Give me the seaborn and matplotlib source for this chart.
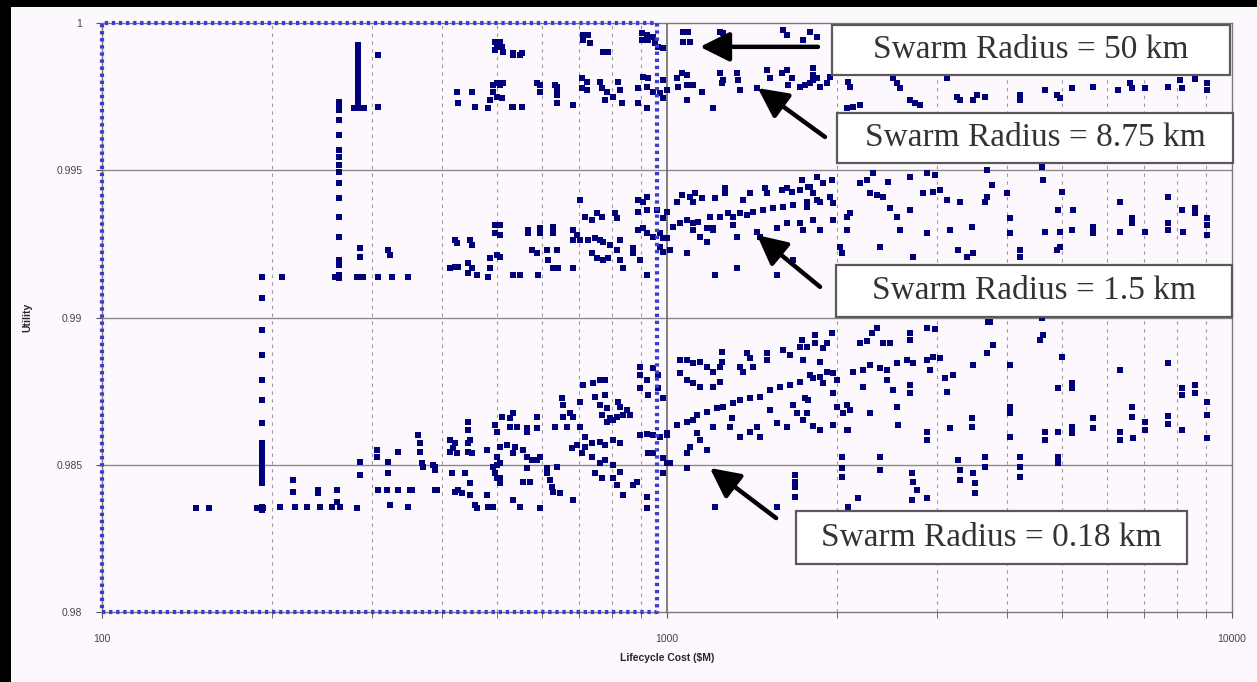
import matplotlib
matplotlib.use("Agg")
import matplotlib.pyplot as plt
import seaborn as sns
import pandas as pd
from matplotlib.patches import Rectangle
from matplotlib.ticker import FixedLocator, FixedFormatter, NullFormatter

# ---------------- data (cost in $M, utility) ----------------
r50_pts = [
    (496, 0.99935), (506, 0.99935), (500, 0.99919), (511, 0.99919), (496, 0.99908), (513, 0.99902),
    (534, 0.99898), (554, 0.99898), (534, 0.99891), (549, 0.99891),
    (710, 0.99959), (725, 0.99959), (710, 0.99942), (731, 0.99932), (770, 0.99902), (786, 0.99902),
    (903, 0.99966), (922, 0.99959), (903, 0.99942), (926, 0.99942), (945, 0.99952), (952, 0.99932),
    (964, 0.99919), (984, 0.99915),
    (1067, 0.99969), (1089, 0.99969), (1067, 0.99935), (1098, 0.99935),
    (1241, 0.99969), (1257, 0.99966),
    (1604, 0.99976), (1631, 0.99959), (1741, 0.99942), (1791, 0.99969), (1843, 0.99952),
    (284, 0.99925), (284, 0.99915), (284, 0.99908), (284, 0.99898), (284, 0.99888), (284, 0.99874),
    (284, 0.99861), (284, 0.99847), (308, 0.99891),
]

r875_pts = [
    (284, 0.99834), (284, 0.99817), (284, 0.99800), (284, 0.99783), (284, 0.99766), (284, 0.99749),
    (284, 0.99732), (279, 0.99711), (284, 0.99711), (291, 0.99711), (308, 0.99715),
    (425, 0.99766), (452, 0.99766), (427, 0.99728), (457, 0.99715), (482, 0.99711),
    (492, 0.99789), (506, 0.99789), (492, 0.99766), (500, 0.99749), (511, 0.99745), (486, 0.99739),
    (534, 0.99715), (554, 0.99715), (500, 0.99796), (513, 0.99796), (532, 0.99715),
    (596, 0.99789), (596, 0.99766), (589, 0.99796), (634, 0.99789), (639, 0.99783), (639, 0.99766),
    (639, 0.99756), (639, 0.99728), (682, 0.99722),
    (707, 0.99813), (722, 0.99800), (707, 0.99779), (722, 0.99772), (761, 0.99800), (767, 0.99779),
    (783, 0.99766), (777, 0.99739), (819, 0.99800), (826, 0.99772), (832, 0.99728), (802, 0.99749),
    (889, 0.99779), (907, 0.99817), (926, 0.99813), (922, 0.99783), (945, 0.99766), (972, 0.99762),
    (984, 0.99745), (1000, 0.99772), (984, 0.99806), (889, 0.99728), (922, 0.99711),
    (1041, 0.99813), (1063, 0.99830), (1085, 0.99823), (1046, 0.99783), (1085, 0.99789),
    (1112, 0.99789), (1153, 0.99766), (1085, 0.99739), (1206, 0.99711),
    (1241, 0.99830), (1257, 0.99806), (1251, 0.99796), (1330, 0.99830), (1336, 0.99806),
    (1346, 0.99772), (1443, 0.99779),
    (1503, 0.99840), (1522, 0.99813), (1597, 0.99830), (1631, 0.99840), (1665, 0.99813),
    (1638, 0.99789), (1720, 0.99783), (1755, 0.99789), (1813, 0.99847), (1813, 0.99823),
    (1791, 0.99796), (1813, 0.99806), (1843, 0.99813), (1866, 0.99783), (1920, 0.99796), (1944, 0.99817),
    (2092, 0.99800), (2109, 0.99783), (2083, 0.99711), (2135, 0.99715), (2197, 0.99722),
    (2512, 0.99813), (2553, 0.99796), (2585, 0.99779), (2692, 0.99739), (2748, 0.99728), (2804, 0.99722),
    (3131, 0.99813), (3262, 0.99749), (3302, 0.99739), (3481, 0.99739), (3538, 0.99756), (3655, 0.99749),
    (4215, 0.99756), (4215, 0.99739),
    (4667, 0.99772), (4901, 0.99756), (4961, 0.99745), (5211, 0.99779), (5675, 0.99783),
    (6284, 0.99772), (6599, 0.99796), (6653, 0.99779), (7015, 0.99779), (7705, 0.99783),
    (8091, 0.99806), (8155, 0.99779), (8600, 0.99810), (9030, 0.99796), (9030, 0.99772),
]

r15_pts = [
    (263, 0.99732), (263, 0.99722), (263, 0.99711), (263, 0.99705), (263, 0.99671), (263, 0.99620),
    (263, 0.99569), (263, 0.99545), (263, 0.99518), (263, 0.99494), (263, 0.99457), (263, 0.99406),
    (263, 0.99341), (263, 0.99273), (263, 0.99195), (263, 0.99178), (263, 0.99144), (263, 0.99134),
    (258, 0.99138), (192, 0.99138), (208, 0.99138),
    (286, 0.99236), (286, 0.99205), (283, 0.99138), (290, 0.99138), (308, 0.99138),
    (321, 0.99229), (323, 0.99212), (326, 0.99138), (348, 0.99138),
    (422, 0.99263), (448, 0.99263), (425, 0.99253), (452, 0.99246),
    (413, 0.99168), (422, 0.99171), (427, 0.99171), (445, 0.99185), (452, 0.99168), (461, 0.99144),
    (445, 0.99151),
    (486, 0.99202), (500, 0.99212), (506, 0.99205), (496, 0.99314), (506, 0.99314), (496, 0.99287),
    (506, 0.99280), (486, 0.99168), (482, 0.99138), (534, 0.99144), (549, 0.99144),
    (568, 0.99297), (568, 0.99287), (596, 0.99304), (596, 0.99287), (629, 0.99307), (629, 0.99287),
    (577, 0.99229), (589, 0.99219), (613, 0.99229), (616, 0.99195), (639, 0.99229), (629, 0.99168),
    (642, 0.99168), (591, 0.99144),
    (682, 0.99297), (682, 0.99263), (702, 0.99399), (716, 0.99341), (737, 0.99331), (752, 0.99355),
    (767, 0.99341), (809, 0.99355), (816, 0.99338), (693, 0.99280), (702, 0.99263), (725, 0.99263),
    (746, 0.99270), (761, 0.99263), (770, 0.99256), (793, 0.99246), (826, 0.99263), (816, 0.99229),
    (737, 0.99219), (752, 0.99202), (770, 0.99195), (786, 0.99202), (826, 0.99195), (682, 0.99168),
    (836, 0.99168), (922, 0.99144),
    (889, 0.99399), (907, 0.99392), (922, 0.99409), (889, 0.99358), (922, 0.99365), (960, 0.99365),
    (1000, 0.99358), (984, 0.99338),
    (889, 0.99297), (907, 0.99304), (922, 0.99287), (945, 0.99273), (972, 0.99287), (984, 0.99270),
    (1000, 0.99270), (972, 0.99239), (984, 0.99222), (1012, 0.99229), (871, 0.99236), (871, 0.99219),
    (896, 0.99195),
    (1041, 0.99392), (1063, 0.99416), (1098, 0.99409), (1121, 0.99423), (1112, 0.99392),
    (1153, 0.99406), (1216, 0.99406), (1267, 0.99440), (1267, 0.99423),
    (1025, 0.99307), (1054, 0.99321), (1085, 0.99331), (1112, 0.99321), (1135, 0.99324),
    (1112, 0.99297), (1144, 0.99273), (1177, 0.99304), (1206, 0.99304), (1177, 0.99256), (1085, 0.99219),
    (1191, 0.99341), (1241, 0.99341), (1282, 0.99355), (1309, 0.99341), (1346, 0.99355),
    (1385, 0.99348), (1420, 0.99358), (1479, 0.99365), (1540, 0.99372), (1604, 0.99375),
    (1671, 0.99382), (1769, 0.99392), (1843, 0.99399),
    (1363, 0.99399), (1403, 0.99423), (1491, 0.99440), (1503, 0.99423), (1597, 0.99433),
    (1631, 0.99440), (1665, 0.99426), (1720, 0.99433), (1776, 0.99443),
    (1206, 0.99297), (1309, 0.99314), (1330, 0.99273), (1443, 0.99290), (1461, 0.99273),
    (1566, 0.99304), (1631, 0.99321), (1720, 0.99321), (1741, 0.99297),
    (1216, 0.99144), (1330, 0.99168), (1566, 0.99144), (1671, 0.99195),
    (1734, 0.99467), (1791, 0.99443), (1813, 0.99423), (1843, 0.99477), (1889, 0.99457),
    (1959, 0.99467), (1944, 0.99409), (1866, 0.99392), (1967, 0.99389), (1967, 0.99331),
    (1769, 0.99375), (1813, 0.99331), (1866, 0.99297), (2083, 0.99341), (2109, 0.99355),
    (2083, 0.99297), (2024, 0.99239), (2040, 0.99219),
    (2197, 0.99457), (2259, 0.99467), (2287, 0.99423), (2353, 0.99416), (2411, 0.99409),
    (2315, 0.99491), (2461, 0.99460), (2481, 0.99372), (2553, 0.99341), (2585, 0.99297),
    (2692, 0.99477), (2692, 0.99365), (2382, 0.99239), (2725, 0.99205),
    (2885, 0.99491), (2981, 0.99484), (2839, 0.99423), (2957, 0.99426), (3042, 0.99433),
    (3131, 0.99399), (3302, 0.99392), (2885, 0.99287), (3169, 0.99297), (3466, 0.99307),
    (3273, 0.99229), (3396, 0.99205), (3481, 0.99219),
    (3686, 0.99501), (3761, 0.99450), (3686, 0.99409), (3655, 0.99392), (3998, 0.99423),
    (4047, 0.99338), (4047, 0.99287), (4215, 0.99229), (4215, 0.99205),
    (4610, 0.99511), (4629, 0.99467), (5001, 0.99426), (4920, 0.99365), (5233, 0.99365),
    (4667, 0.99290), (4961, 0.99290), (5211, 0.99297), (4901, 0.99229), (4961, 0.99239),
    (5675, 0.99307), (5675, 0.99287),
    (6336, 0.99392), (6653, 0.99338), (6653, 0.99321), (6336, 0.99290), (7015, 0.99290),
    (7705, 0.99409), (7705, 0.99321), (7705, 0.99297), (8155, 0.99365), (8600, 0.99372),
    (8600, 0.99355), (8189, 0.99290), (9030, 0.99338), (9030, 0.99314), (9030, 0.99280),
]

r018_pts = [
    (192, 0.99066), (192, 0.98958), (192, 0.98873), (192, 0.98788), (192, 0.98720), (192, 0.98642),
    (192, 0.98574), (192, 0.98560), (192, 0.98550), (192, 0.98540), (192, 0.98526), (192, 0.98506),
    (192, 0.98492), (192, 0.98475), (192, 0.98455), (192, 0.98438), (192, 0.98357), (192, 0.98346),
    (147, 0.98353), (155, 0.98353), (188, 0.98353), (193, 0.98353),
    (207, 0.98357), (218, 0.98448), (218, 0.98407), (220, 0.98357), (231, 0.98357), (241, 0.98414),
    (241, 0.98404), (243, 0.98357), (261, 0.98414), (261, 0.98373), (255, 0.98357), (264, 0.98357),
    (283, 0.98353), (286, 0.98509), (286, 0.98465), (307, 0.98550), (307, 0.98526), (321, 0.98509),
    (321, 0.98472), (308, 0.98414), (320, 0.98414), (323, 0.98363), (334, 0.98543), (334, 0.98414),
    (348, 0.98357), (351, 0.98414),
    (362, 0.98601), (365, 0.98574), (365, 0.98543), (368, 0.98506), (385, 0.98499), (389, 0.98482),
    (392, 0.98414), (354, 0.98414), (389, 0.98414), (370, 0.98492), (389, 0.98492),
    (413, 0.98584), (422, 0.98574), (413, 0.98543), (445, 0.98645), (445, 0.98618), (445, 0.98574),
    (445, 0.98543), (416, 0.98472), (439, 0.98472), (427, 0.98414), (434, 0.98404), (448, 0.98397),
    (457, 0.98363), (480, 0.98550), (480, 0.98397), (492, 0.98357), (496, 0.98635), (500, 0.98499),
    (500, 0.98455), (418, 0.98557), (425, 0.98540), (448, 0.98584), (452, 0.98540), (422, 0.98407),
    (448, 0.98438), (461, 0.98353), (482, 0.98357),
    (500, 0.98526), (492, 0.98492), (506, 0.98506), (496, 0.98472), (506, 0.98455), (506, 0.98438),
    (500, 0.98611), (511, 0.98662), (527, 0.98659), (534, 0.98676), (527, 0.98628), (543, 0.98628),
    (506, 0.98560), (521, 0.98567), (538, 0.98560), (534, 0.98540), (556, 0.98550), (565, 0.98526),
    (577, 0.98516), (589, 0.98516), (596, 0.98526), (565, 0.98489), (556, 0.98441), (572, 0.98441),
    (534, 0.98380), (549, 0.98357), (596, 0.98353), (589, 0.98662), (589, 0.98625), (565, 0.98625),
    (565, 0.98611),
    (613, 0.98489), (613, 0.98472), (621, 0.98448), (626, 0.98424), (629, 0.98407), (647, 0.98404),
    (639, 0.98492), (634, 0.98628), (665, 0.98628), (655, 0.98662), (702, 0.98628), (674, 0.98676),
    (682, 0.98662), (652, 0.98727), (655, 0.98703), (679, 0.98557), (693, 0.98567), (716, 0.98560),
    (707, 0.98540), (737, 0.98574), (761, 0.98577), (777, 0.98567), (802, 0.98584), (826, 0.98574),
    (716, 0.98594), (737, 0.98526), (761, 0.98506), (777, 0.98516), (802, 0.98499), (746, 0.98472),
    (767, 0.98455), (802, 0.98455), (826, 0.98475), (816, 0.98431), (836, 0.98397), (871, 0.98431),
    (885, 0.98441), (922, 0.98353), (682, 0.98380),
    (710, 0.98771), (740, 0.98778), (761, 0.98788), (777, 0.98788), (746, 0.98730), (777, 0.98737),
    (702, 0.98713), (761, 0.98703), (783, 0.98693), (819, 0.98713), (826, 0.98696), (850, 0.98686),
    (860, 0.98669), (767, 0.98669), (793, 0.98659), (816, 0.98662), (836, 0.98669), (783, 0.98645),
    (802, 0.98652),
    (896, 0.98832), (896, 0.98805), (922, 0.98788), (945, 0.98829), (964, 0.98805), (896, 0.98761),
    (926, 0.98737), (964, 0.98761), (984, 0.98727), (896, 0.98601), (922, 0.98604), (945, 0.98601),
    (972, 0.98594), (1000, 0.98601), (926, 0.98540), (945, 0.98540), (984, 0.98523), (1000, 0.98506),
    (984, 0.98472), (922, 0.98390),
    (1000, 0.98608), (1041, 0.98635), (1085, 0.98645), (1112, 0.98652), (1130, 0.98669),
    (1177, 0.98679), (1226, 0.98693), (1257, 0.98696), (1309, 0.98710), (1346, 0.98720),
    (1403, 0.98727), (1461, 0.98730), (1522, 0.98754), (1585, 0.98764), (1651, 0.98771),
    (1720, 0.98781), (1813, 0.98795),
    (1054, 0.98856), (1085, 0.98856), (1112, 0.98846), (1144, 0.98849), (1177, 0.98832),
    (1206, 0.98815), (1241, 0.98832), (1054, 0.98812), (1085, 0.98788), (1112, 0.98778),
    (1144, 0.98764), (1206, 0.98764), (1241, 0.98781), (1251, 0.98883), (1251, 0.98849),
    (1346, 0.98832), (1363, 0.98815), (1385, 0.98879), (1403, 0.98862), (1420, 0.98832),
    (1503, 0.98879), (1503, 0.98856), (1604, 0.98890), (1651, 0.98873), (1720, 0.98900), (1741, 0.98856),
    (1085, 0.98540), (1098, 0.98560), (1130, 0.98608), (1144, 0.98584), (1177, 0.98550),
    (1206, 0.98628), (1303, 0.98659), (1293, 0.98628), (1346, 0.98594), (1403, 0.98611),
    (1443, 0.98628), (1461, 0.98594), (1522, 0.98686), (1566, 0.98642), (1631, 0.98628),
    (1699, 0.98676), (1741, 0.98652), (1776, 0.98720), (1671, 0.98703),
    (1085, 0.98489), (1012, 0.98506), (1216, 0.98357), (1566, 0.98357), (1685, 0.98465),
    (1685, 0.98441), (1685, 0.98424), (1685, 0.98390),
    (1734, 0.98924), (1769, 0.98900), (1828, 0.98941), (1828, 0.98913), (1889, 0.98896),
    (1959, 0.98947), (1920, 0.98913), (1866, 0.98849), (1791, 0.98805), (1866, 0.98798),
    (1920, 0.98815), (1967, 0.98812), (1889, 0.98778), (1999, 0.98788), (1967, 0.98744),
    (1755, 0.98727), (1769, 0.98676), (1813, 0.98632), (1866, 0.98618), (1967, 0.98635),
    (1999, 0.98696), (2083, 0.98703), (2109, 0.98686), (2049, 0.98676), (2092, 0.98618),
    (2040, 0.98526), (2040, 0.98489), (2040, 0.98458), (2179, 0.98387), (2092, 0.98357),
    (2197, 0.98913), (2259, 0.98920), (2306, 0.98947), (2353, 0.98964), (2411, 0.98913),
    (2481, 0.98913), (2692, 0.98947), (2692, 0.98924), (2885, 0.98964), (2981, 0.98961),
    (2135, 0.98815), (2224, 0.98822), (2287, 0.98839), (2382, 0.98829), (2451, 0.98822),
    (2553, 0.98846), (2660, 0.98856), (2725, 0.98846), (2885, 0.98856), (2957, 0.98866),
    (3042, 0.98862), (2921, 0.98822), (2224, 0.98764), (2451, 0.98788), (2512, 0.98754),
    (2692, 0.98771), (2692, 0.98744), (2553, 0.98696), (2563, 0.98635), (2287, 0.98676),
    (2083, 0.98618), (3105, 0.98795), (3208, 0.98805), (3131, 0.98747), (3481, 0.98839),
    (3686, 0.98880), (3776, 0.98907), (3731, 0.98985),
    (2885, 0.98611), (2885, 0.98584), (3169, 0.98625), (3466, 0.98659), (3466, 0.98628),
    (2714, 0.98472), (2725, 0.98441), (2770, 0.98414), (2885, 0.98387), (2714, 0.98380),
    (2382, 0.98526), (2382, 0.98482), (3273, 0.98516), (3302, 0.98482), (3302, 0.98448),
    (3481, 0.98472), (3509, 0.98438), (3509, 0.98404), (3655, 0.98526), (3655, 0.98492),
    (3700, 0.98985), (4047, 0.98839), (4047, 0.98696), (4047, 0.98676), (4047, 0.98594),
    (4215, 0.98526), (4215, 0.98492), (4215, 0.98458), (4610, 0.98998), (4629, 0.98940),
    (4573, 0.98924), (5001, 0.98866), (4920, 0.98761), (5211, 0.98778), (5211, 0.98761),
    (4667, 0.98611), (4667, 0.98584), (4920, 0.98611), (5211, 0.98628), (5211, 0.98608),
    (5675, 0.98659), (5675, 0.98625), (4920, 0.98526), (4920, 0.98506),
    (6336, 0.98822), (6653, 0.98696), (6653, 0.98662), (6681, 0.98591), (6336, 0.98611),
    (6336, 0.98584), (7015, 0.98645), (7015, 0.98618), (7705, 0.98846), (7705, 0.98666),
    (7705, 0.98638), (8155, 0.98761), (8155, 0.98737), (8600, 0.98771), (8600, 0.98744),
    (8155, 0.98618), (9030, 0.98713), (9030, 0.98669), (9030, 0.98591),
]

# dotted blue selection frame (cost, utility corners)
frame_x = [100, 960, 960, 100, 100]
frame_y = [0.98, 0.98, 1.0, 1.0, 0.98]

y_ticks = [0.98, 0.985, 0.99, 0.995, 1.0]
y_tick_labels = ["0.98", "0.985", "0.99", "0.995", "1"]
x_ticks = [100, 1000, 10000]
x_tick_labels = ["100", "1000", "10000"]
x_minor = [200, 300, 400, 500, 600, 700, 800, 900, 2000, 3000, 4000, 5000, 6000, 7000, 8000, 9000]

labels = ["Swarm Radius = 50 km", "Swarm Radius = 8.75 km",
          "Swarm Radius = 1.5 km", "Swarm Radius = 0.18 km"]
arrow_heads = [(1144, 0.99919), (1448, 0.99779), (1443, 0.99280), (1191, 0.98489)]
arrow_tails = [(1850, 0.99919), (1904, 0.99613), (1866, 0.99104), (1560, 0.98319)]

# ---------------- figure ----------------
BG = "#fdf8fd"
sns.set_style("white")
plt.rcParams["font.family"] = ["Liberation Sans", "DejaVu Sans"]

fig = plt.figure(figsize=(12.57, 6.82), dpi=100, facecolor=BG)
ax = fig.add_axes([0.0811, 0.1026, 0.8990, 0.8637])
ax.set_facecolor(BG)

rows = []
for name, pts in [("50 km", r50_pts), ("8.75 km", r875_pts), ("1.5 km", r15_pts), ("0.18 km", r018_pts)]:
    for c, u in pts:
        rows.append({"cost": c, "utility": u, "radius": name})
df = pd.DataFrame(rows)

ax.set_xscale("log")
ax.set_xlim(100, 10000)
ax.set_ylim(0.98, 1.0)

# grid
for yv in [0.985, 0.99, 0.995]:
    ax.axhline(yv, color="#8a8a8a", lw=1.0, zorder=0)
ax.axvline(1000, color="#6a6a6a", lw=1.2, zorder=0)
for xv in x_minor:
    ax.axvline(xv, color="#9a9a9a", lw=0.8, ls=(0, (3, 4)), zorder=0)

sns.scatterplot(data=df, x="cost", y="utility", color="#00007a", marker="s", s=15,
                linewidth=0, ax=ax, legend=False, zorder=3)

ax.plot(frame_x, frame_y, color="#3c3cd0", lw=3.0, ls=(0, (0.8, 0.9)),
        clip_on=False, zorder=4)

for sp in ax.spines.values():
    sp.set_color("#7a7a7a")
    sp.set_linewidth(1.0)

ax.xaxis.set_major_locator(FixedLocator(x_ticks))
ax.xaxis.set_major_formatter(FixedFormatter(x_tick_labels))
ax.xaxis.set_minor_locator(FixedLocator(x_minor))
ax.xaxis.set_minor_formatter(NullFormatter())
ax.yaxis.set_major_locator(FixedLocator(y_ticks))
ax.yaxis.set_major_formatter(FixedFormatter(y_tick_labels))
ax.tick_params(axis="both", which="both", direction="out", color="#555555",
               labelsize=7.5, labelcolor="#444444", bottom=True, left=True)
ax.tick_params(axis="x", which="major", length=4, pad=12)
ax.tick_params(axis="x", which="minor", length=4)
ax.tick_params(axis="y", which="major", length=4, pad=10)

ax.set_xlabel("Lifecycle Cost (\\$M)", fontsize=7.5, fontweight="bold", labelpad=6)
ax.set_ylabel("Utility", fontsize=7.5, fontweight="bold", labelpad=17)

# arrows
for head, tail in zip(arrow_heads, arrow_tails):
    ax.annotate("", xy=head, xytext=tail,
                arrowprops=dict(arrowstyle="-|>,head_length=1.0,head_width=0.5",
                                lw=3.2, color="black", shrinkA=0, shrinkB=0,
                                mutation_scale=18),
                zorder=6)

# label boxes (figure pixel layout from the top-left corner)
W, H = 1257.0, 682.0
boxes = [(832, 25, 1230, 75), (837, 113, 1233, 163), (836, 265, 1232, 317), (796, 511, 1187, 564)]
for (x0, y0, x1, y1), txt in zip(boxes, labels):
    fig.patches.append(Rectangle((x0 / W, 1 - y1 / H), (x1 - x0) / W, (y1 - y0) / H,
                                 transform=fig.transFigure, facecolor="white",
                                 edgecolor="#5a5a5a", lw=1.6, zorder=10))
    fig.text((x0 + x1) / 2 / W, 1 - (y0 + y1) / 2 / H, txt, ha="center", va="center",
             fontsize=24, family=["Liberation Serif", "DejaVu Serif"], color="#333333", zorder=11)

# black frame on the top and left edges
fig.patches.append(Rectangle((0, 0), 11 / W, 1, transform=fig.transFigure,
                             facecolor="black", edgecolor="none", zorder=20))
fig.patches.append(Rectangle((0, 1 - 7 / H), 1, 7 / H, transform=fig.transFigure,
                             facecolor="black", edgecolor="none", zorder=20))

fig.savefig("out.png", dpi=100, facecolor=BG)
